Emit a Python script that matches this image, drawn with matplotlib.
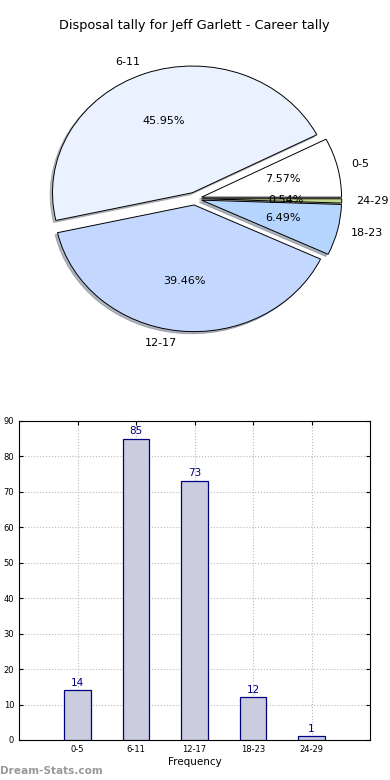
import matplotlib
matplotlib.use("Agg")
from matplotlib import pyplot as plt

# Data.
categories = ["0-5", "6-11", "12-17", "18-23", "24-29"]
counts = [14, 85, 73, 12, 1]
pie_colors = ["#ffffff", "#eaf1ff", "#c4d8ff", "#b5d5ff", "#c2d88e"]
title = "Disposal tally for Jeff Garlett - Career tally"

fig = plt.figure(figsize=(3.9, 7.8), dpi=100)

# Pie chart (top), stretched as in the reference.
ax1 = fig.add_axes([0.051, 0.5423, 0.897, 0.406])
wedges, texts, autotexts = ax1.pie(
    counts, labels=categories, colors=pie_colors, explode=[0.05] * len(counts),
    autopct="%.2f%%", shadow={"ox": -0.012, "oy": -0.012, "shade": 0.5}, startangle=0,
    wedgeprops={"edgecolor": "black", "linewidth": 0.7},
    textprops={"fontsize": 8},
)
ax1.set_aspect("auto")
ax1.set_xlim(-1.25, 1.25)
ax1.set_ylim(-1.25, 1.25)
ax1.set_title(title, fontsize=9.3, pad=8)

# Bar chart (bottom).
ax2 = fig.add_axes([0.049, 0.0513, 0.9, 0.409])
x = list(range(len(categories)))
bars = ax2.bar(x, counts, width=0.45, color="#ccccdf", edgecolor="#000080", linewidth=0.9, zorder=3)
for xi, c in zip(x, counts):
    ax2.text(xi, c + 0.8, str(c), ha="center", va="bottom", color="#000080", fontsize=7.5, zorder=4)
ax2.set_xlim(-1, 5)
ax2.set_ylim(0, 90)
ax2.set_xticks(x)
ax2.set_xticklabels(categories)
ax2.set_yticks(range(0, 91, 10))
ax2.tick_params(labelsize=6, direction="in", top=True, right=True, length=3)
ax2.grid(True, color="#bbbbbb", linestyle=":", linewidth=0.8, zorder=0)
ax2.set_xlabel("Frequency", fontsize=7.5, labelpad=2)

# Watermark.
fig.text(0.0, 0.005, "Dream-Stats.com", color="#999999", fontsize=7.6, fontweight="bold", ha="left", va="bottom")

fig.savefig("out.png", dpi=100)
plt.close(fig)
